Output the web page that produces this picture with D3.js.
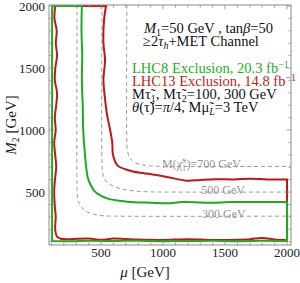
<!DOCTYPE html>
<html><head><meta charset="utf-8">
<script src="https://cdn.jsdelivr.net/npm/d3@7"></script>
<style>body{margin:0;background:#fff}svg{display:block}text{font-family:"Liberation Serif","DejaVu Serif",serif}</style>
</head><body><svg id="c" width="300" height="283"></svg>
<script>
// ---- data (mu, M2) in GeV ----
const xTicksMajor = [500, 1000, 1500, 2000];
const yTicksMajor = [500, 1000, 1500, 2000];
const minorStep = 100;

const lhc8Exclusion = [
  [105,2000],[345,2000],[342,1800],[348,1600],[345,1400],[352,1200],[356,1000],[366,850],
  [380,700],[392,620],[412,565],[445,510],[490,475],[560,445],[650,430],[770,418],
  [900,414],[1030,409],[1160,419],[1350,414],[1565,419],[1780,419],[2000,419],
  [2000,105],[1800,108],[1600,104],[1400,107],[1200,105],[1000,104],[800,108],[600,105],
  [400,107],[250,104],[105,105]
];
const lhc8Corners = [[105,2000],[345,2000],[2000,419],[2000,105],[105,105]];
const lhc13Exclusion = [
  [130,2000],[540,2000],[524,1887],[519,1702],[532,1565],[519,1403],[530,1269],[546,1137],
  [573,1000],[590,900],[596,800],[632,715],[720,676],[815,655],[895,645],[1030,622],
  [1190,592],[1300,598],[1430,603],[1570,602],[1700,607],[1840,602],[2000,602],
  [2000,112],[1900,118],[1800,130],[1700,120],[1600,116],[1400,114],[1200,120],[1000,114],
  [800,117],[700,121],[600,125],[500,115],[400,125],[250,120],[175,124],[145,140],
  [130,200],[134,300],[126,400],[122,500],[128,600],[138,700],[130,800],[122,900],
  [134,1000],[127,1100],[138,1200],[145,1300],[127,1400],[131,1500],[145,1600],
  [135,1700],[142,1800],[124,1900]
];
const lhc13Corners = [[130,2000],[540,2000],[2000,602],[2000,112]];
const chargino300 = [[306,2010],[306,520],[308,470],[315,430],[331,395],[371,349],[435,323],[500,310],[600,306],[2040,306]];
const chargino500 = [[508,2010],[508,720],[514,650],[532,600],[573,560],[653,528],[758,510],[871,502],[1000,500],[2040,500]];
const chargino700 = [[708,2010],[708,900],[713,830],[735,770],[770,738],[839,718],[900,710],[1000,707],[2040,707]];
const charginoLabels = [
  {text:"M(χ̃", sub:"1", sup:"±", rest:")=700 GeV", mu:1310, m2:707},
  {text:"500 GeV", mu:1484, m2:500},
  {text:"300 GeV", mu:1490, m2:306}
];

const W = 300, H = 283;
const m = {l:49, r:291, t:5, b:245};
const x = d3.scaleLinear().domain([80, 2032]).range([m.l, m.r]);
const y = d3.scaleLinear().domain([73, 2008]).range([m.b, m.t]);
const svg = d3.select("#c");
const frameCol = "#8c8c8c";

svg.append("clipPath").attr("id","pc").append("rect")
  .attr("x",m.l).attr("y",m.t).attr("width",m.r-m.l).attr("height",m.b-m.t);
const plot = svg.append("g").attr("clip-path","url(#pc)");

const lineOpen = d3.line().x(d=>x(d[0])).y(d=>y(d[1])).curve(d3.curveCatmullRom.alpha(0.5));

// closed path: smooth between sharp corner points
function cornerPath(pts, corners) {
  const isC = p => corners.some(c => c[0]===p[0] && c[1]===p[1]);
  const idx = pts.map((p,i)=>isC(p)?i:-1).filter(i=>i>=0);
  const n = pts.length;
  let d = "";
  idx.forEach((s,k)=>{
    const e = idx[(k+1)%idx.length];
    const seg = [];
    for (let i=s;;i=(i+1)%n){ seg.push(pts[i]); if (i===e && seg.length>1) break; }
    const p = lineOpen(seg);
    d += (k===0) ? p : p.replace(/^M[^A-Za-z]*/, "");
  });
  return d + "Z";
}

[chargino300, chargino500, chargino700].forEach(c=>{
  plot.append("path").attr("d", lineOpen(c)).attr("fill","none")
    .attr("stroke","#9a9a9a").attr("stroke-width",1).attr("stroke-dasharray","4,3");
});

plot.append("path").attr("d", cornerPath(lhc13Exclusion, lhc13Corners)).attr("fill","none")
  .attr("stroke","#bf1717").attr("stroke-width",2).attr("stroke-linejoin","miter");
plot.append("path").attr("d", cornerPath(lhc8Exclusion, lhc8Corners)).attr("fill","none")
  .attr("stroke","#1faa1f").attr("stroke-width",2).attr("stroke-linejoin","miter");

// chargino labels
charginoLabels.forEach(L=>{
  const t = svg.append("text").attr("x", x(L.mu)).attr("y", y(L.m2)+2)
    .attr("text-anchor","middle").attr("font-size",12).attr("fill","#959595");
  t.append("tspan").text(L.text);
  if (L.sub) {
    t.append("tspan").attr("font-size",8).attr("dy",3).text(L.sub);
    t.append("tspan").attr("font-size",8).attr("dx",-4).attr("dy",-8).text(L.sup);
    t.append("tspan").attr("dy",5).text(L.rest);
  }
});

// frame
svg.append("rect").attr("x",m.l).attr("y",m.t).attr("width",m.r-m.l).attr("height",m.b-m.t)
  .attr("fill","none").attr("stroke",frameCol).attr("stroke-width",1);

// ticks
const minor = d3.range(100, 2001, minorStep);
const tg = svg.append("g").attr("stroke",frameCol).attr("stroke-width",0.8);
minor.forEach(v=>{
  const len = (v % 500 === 0) ? 4.5 : 2.5;
  tg.append("line").attr("x1",x(v)).attr("x2",x(v)).attr("y1",m.b).attr("y2",m.b-len);
  tg.append("line").attr("x1",x(v)).attr("x2",x(v)).attr("y1",m.t).attr("y2",m.t+len);
  tg.append("line").attr("y1",y(v)).attr("y2",y(v)).attr("x1",m.l).attr("x2",m.l+len);
  tg.append("line").attr("y1",y(v)).attr("y2",y(v)).attr("x1",m.r).attr("x2",m.r-len);
});
xTicksMajor.forEach(v=>{
  svg.append("text").attr("x",x(v)).attr("y",257).attr("text-anchor","middle")
    .attr("font-size",13).attr("fill","#222").text(v);
});
yTicksMajor.forEach(v=>{
  svg.append("text").attr("x",45).attr("y",Math.max(y(v)+4.5, 10.5)).attr("text-anchor","end")
    .attr("font-size",13).attr("fill","#222").text(v);
});

// axis titles
const xt = svg.append("text").attr("x",145).attr("y",277).attr("text-anchor","middle")
  .attr("font-size",15).attr("fill","#222");
xt.append("tspan").attr("font-style","italic").text("μ");
xt.append("tspan").text(" [GeV]");
const yt = svg.append("text").attr("transform","translate(16,125) rotate(-90)")
  .attr("text-anchor","middle").attr("font-size",15).attr("fill","#222");
yt.append("tspan").attr("font-style","italic").text("M");
yt.append("tspan").attr("font-size",10).attr("dy",3).text("2");
yt.append("tspan").attr("dy",-3).text(" [GeV]");

// annotation text
const fs = 14.5;
function tl(xp, yp, col) {
  return svg.append("text").attr("x",xp).attr("y",yp).attr("font-size",fs).attr("fill",col);
}
let t1 = tl(144, 33, "#111");
t1.append("tspan").attr("font-style","italic").text("M");
t1.append("tspan").attr("font-size",10).attr("dy",3).text("1");
t1.append("tspan").attr("dy",-3).text("=50 GeV , tan");
t1.append("tspan").attr("font-style","italic").text("β");
t1.append("tspan").text("=50");
let t2 = tl(143, 45.5, "#111");
t2.append("tspan").text("≥2");
t2.append("tspan").attr("font-style","italic").text("τ");
t2.append("tspan").attr("font-style","italic").attr("font-size",10).attr("dy",3).text("h");
t2.append("tspan").attr("dy",-3).text("+MET Channel");
let t3 = tl(132, 73, "#22b022");
t3.append("tspan").text("LHC8 Exclusion, 20.3 fb");
t3.append("tspan").attr("font-size",10).attr("dy",-5).text("−1");
let t4 = tl(132, 86, "#c01c1c");
t4.append("tspan").text("LHC13 Exclusion, 14.8 fb");
t4.append("tspan").attr("font-size",10).attr("dy",-5).text("−1");
let t5 = tl(132, 99, "#111");
t5.append("tspan").text("Mτ̃");
t5.append("tspan").attr("font-size",10).attr("dy",3).text("1");
t5.append("tspan").attr("dy",-3).text(", Mτ̃");
t5.append("tspan").attr("font-size",10).attr("dy",3).text("2");
t5.append("tspan").attr("dy",-3).text("=100, 300 GeV");
let t6 = tl(132, 112, "#111");
t6.append("tspan").attr("font-style","italic").text("θ");
t6.append("tspan").text("(τ̃)=");
t6.append("tspan").attr("font-style","italic").text("π");
t6.append("tspan").text("/4, Mμ̃");
t6.append("tspan").attr("font-style","italic").attr("font-size",10).attr("dy",3).text("L");
t6.append("tspan").attr("dy",-3).text("=3 TeV");
</script></body></html>
